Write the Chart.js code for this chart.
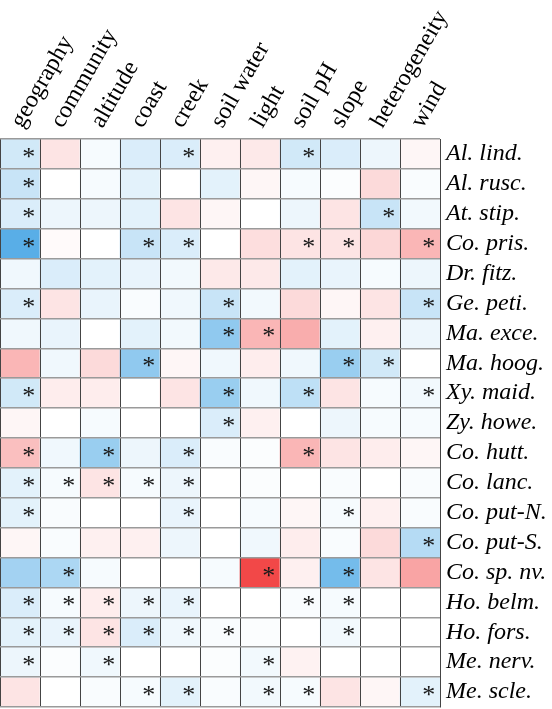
<!DOCTYPE html>
<html>
<head>
<meta charset="utf-8">
<script src="https://cdn.jsdelivr.net/npm/chart.js@4.4.1/dist/chart.umd.min.js"></script>
<style>
html,body{margin:0;padding:0;background:#fff;}
#c{display:block;}
</style>
</head>
<body>
<canvas id="c" width="552" height="709"></canvas>
<script>
const columns = ['geography','community','altitude','coast','creek','soil water','light','soil pH','slope','heterogeneity','wind'];
const species = ['Al. lind.','Al. rusc.','At. stip.','Co. pris.','Dr. fitz.','Ge. peti.','Ma. exce.','Ma. hoog.','Xy. maid.','Zy. howe.','Co. hutt.','Co. lanc.','Co. put-N.','Co. put-S.','Co. sp. nv.','Ho. belm.','Ho. fors.','Me. nerv.','Me. scle.'];
// positive = blue, negative = red
const values = [
  [0.25,-0.15,0.05,0.2,0.2,-0.08,-0.12,0.25,0.2,0.1,-0.05],
  [0.3,0,0.05,0.15,0,0.15,-0.05,0.05,0.02,-0.2,0.03],
  [0.2,0.1,0.1,0.15,-0.15,-0.05,0,0.1,-0.15,0.3,0.07],
  [0.9,-0.03,0,0.3,0.2,0,-0.18,-0.15,-0.15,-0.22,-0.4],
  [0.08,0.2,0.15,0.12,0.07,-0.12,-0.12,0.15,0.12,0.05,0.1],
  [0.2,-0.15,0.12,0.03,0.08,0.3,0.07,-0.2,-0.05,-0.15,0.3],
  [0.08,0.12,0,0.15,0.07,0.6,-0.4,-0.45,0.15,-0.08,0.1],
  [-0.4,0.08,-0.2,0.6,-0.05,0.08,-0.1,0.08,0.55,0.25,0],
  [0.25,-0.1,-0.1,0,-0.15,0.55,0.08,0.35,-0.15,0.05,0.07],
  [-0.05,0,0.05,0,0,0.2,-0.08,0,0.1,0.05,0.05],
  [-0.35,0.08,0.55,0.1,0.2,0.03,0.02,-0.4,-0.15,-0.1,-0.05],
  [0.15,0.05,-0.15,0.05,0.1,0,0.02,0,0.03,0,0.03],
  [0.15,0.03,0,0,0.12,0,0.05,-0.05,0.05,-0.08,0.03],
  [-0.05,0.03,-0.08,-0.08,0.1,0,0.08,-0.1,0.03,-0.2,0.4],
  [0.5,0.45,0.05,0,0,0.05,-1,-0.08,0.75,-0.15,-0.5],
  [0.2,0.05,-0.1,0.1,0.12,0,0,0.03,0.05,0,0],
  [0.15,0.12,-0.15,0.2,0.08,0.03,0.02,0,0.07,0,0],
  [0.1,0.02,0.08,0,0,0.02,0.07,-0.07,0,0,0],
  [-0.15,0,0.03,0.05,0.15,0.03,0.07,0.05,-0.15,-0.05,0.15]
];
const signif = [
  [1,0,0,0,1,0,0,1,0,0,0],
  [1,0,0,0,0,0,0,0,0,0,0],
  [1,0,0,0,0,0,0,0,0,1,0],
  [1,0,0,1,1,0,0,1,1,0,1],
  [0,0,0,0,0,0,0,0,0,0,0],
  [1,0,0,0,0,1,0,0,0,0,1],
  [0,0,0,0,0,1,1,0,0,0,0],
  [0,0,0,1,0,0,0,0,1,1,0],
  [1,0,0,0,0,1,0,1,0,0,1],
  [0,0,0,0,0,1,0,0,0,0,0],
  [1,0,1,0,1,0,0,1,0,0,0],
  [1,1,1,1,1,0,0,0,0,0,0],
  [1,0,0,0,1,0,0,0,1,0,0],
  [0,0,0,0,0,0,0,0,0,0,1],
  [0,1,0,0,0,0,1,0,1,0,0],
  [1,1,1,1,1,0,0,1,1,0,0],
  [1,1,1,1,1,1,0,0,1,0,0],
  [1,0,1,0,0,0,1,0,0,0,0],
  [0,0,0,1,1,0,1,1,0,0,1]
];

function colorFor(v){
  const t = Math.min(1, Math.abs(v));
  const target = v >= 0 ? [70,165,228] : [242,72,72];
  const c = target.map(ch => Math.round(255 - t*(255-ch)));
  return `rgb(${c[0]},${c[1]},${c[2]})`;
}

const datasets = species.map((sp, i) => ({
  label: sp,
  data: columns.map(() => [i, i+1]),
  backgroundColor: values[i].map(colorFor),
  borderWidth: 0,
  barPercentage: 1,
  categoryPercentage: 1,
  grouped: false,
  yAxisID: 'y'
}));

const starPlugin = {
  id: 'stars',
  afterDatasetsDraw(chart){
    const ctx = chart.ctx;
    const xs = chart.scales.x, ys = chart.scales.y;
    const cw = xs.width / columns.length;
    ctx.save();
    ctx.fillStyle = '#1a1a1a';
    ctx.font = '26px "Liberation Serif"';
    ctx.textAlign = 'center';
    ctx.textBaseline = 'alphabetic';
    signif.forEach((row, i) => {
      const top = ys.getPixelForValue(i);
      const bot = ys.getPixelForValue(i+1);
      const h = bot - top;
      row.forEach((s, j) => {
        if (!s) return;
        const left = xs.getPixelForValue(j) - cw/2;
        ctx.fillText('*', left + cw*0.72, top + h*0.42 + 13.5);
      });
    });
    ctx.restore();
  }
};

new Chart(document.getElementById('c'), {
  type: 'bar',
  data: { labels: columns, datasets },
  options: {
    responsive: false,
    animation: false,
    layout: { padding: { left: 0, right: 0, top: 0, bottom: 2 } },
    plugins: { legend: { display: false }, tooltip: { enabled: false } },
    scales: {
      x: {
        position: 'top',
        offset: true,
        grid: { offset: true, color: '#444', lineWidth: 1, drawTicks: false, z: 1 },
        border: { display: false },
        ticks: {
          color: '#000',
          font: { family: '"Liberation Serif"', size: 24 },
          minRotation: 60, maxRotation: 60,
          autoSkip: false, padding: 6, labelOffset: 22
        },
        afterFit(scale){ scale.height = 139; scale.paddingLeft = 0; scale.paddingRight = 0; }
      },
      y: {
        type: 'linear',
        display: false,
        min: 0, max: 19,
        reverse: true
      },
      yl: {
        type: 'category',
        labels: species,
        position: 'right',
        offset: true,
        grid: { offset: true, color: '#9a9a9a', lineWidth: 1.5, drawTicks: false, z: 1 },
        border: { display: true, color: '#444', width: 1, z: 2 },
        ticks: {
          color: '#000',
          font: { family: '"Liberation Serif"', size: 24, style: 'italic' },
          autoSkip: false, padding: 6
        },
        afterFit(scale){ scale.width = 112; scale.paddingTop = 0; scale.paddingBottom = 0; }
      }
    }
  },
  plugins: [starPlugin]
});
</script>
</body>
</html>
